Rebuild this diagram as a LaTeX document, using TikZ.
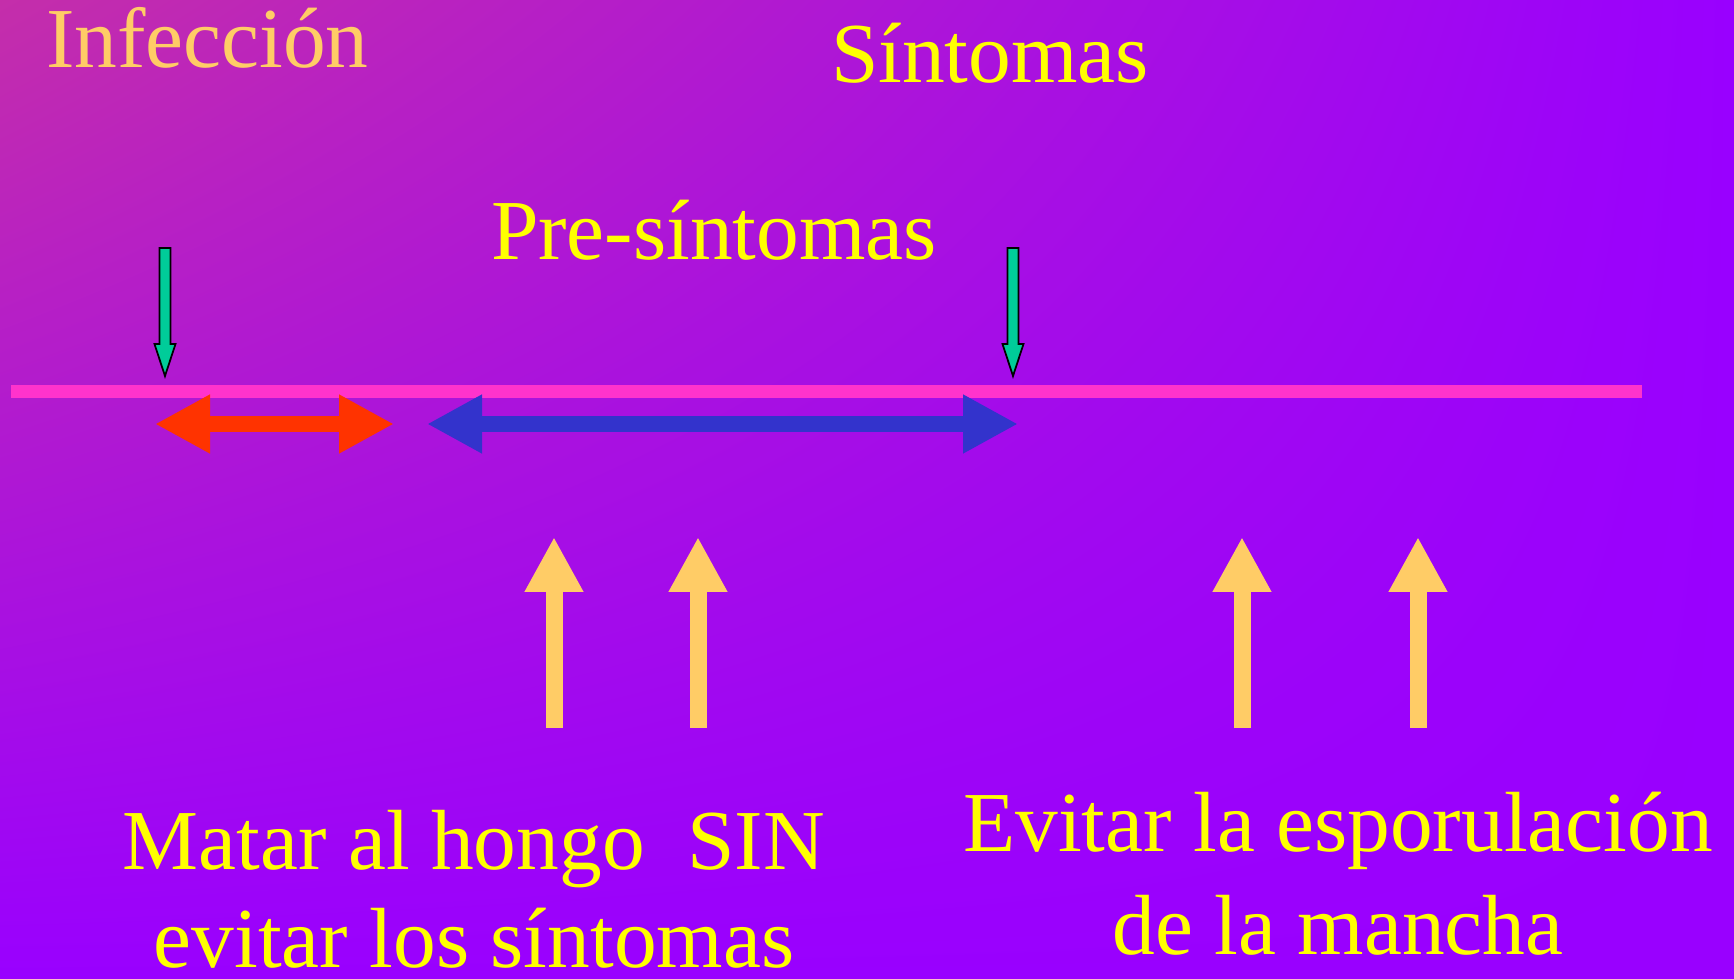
\documentclass[tikz,border=0pt]{standalone}
\usepackage{fontspec}
\setmainfont{Liberation Serif}
\usepackage{xcolor}
\usepackage{tikz}
\usetikzlibrary{arrows.meta}
\usetikzlibrary{shadings}

\definecolor{fondoA}{RGB}{196,46,170}
\definecolor{fondoB}{RGB}{153,0,255}
\definecolor{rosa}{RGB}{255,51,204}
\definecolor{verde}{RGB}{0,204,153}
\definecolor{rojo}{RGB}{255,51,0}
\definecolor{azul}{RGB}{51,51,204}
\definecolor{amarillo}{RGB}{255,255,0}
\definecolor{durazno}{RGB}{255,204,102}

\begin{document}
\begin{tikzpicture}[
	texto/.style={font=\fontsize{24.3}{29}\selectfont, inner sep=0pt, anchor=base, color=amarillo},
	flecha/.style={durazno, line width=0.17cm, -{Triangle[length=0.55cm,width=0.55cm]}},
	dobleflecha/.style={line width=0.16cm, {Triangle[length=0.55cm,width=0.55cm]}-{Triangle[length=0.55cm,width=0.55cm]}},
	flechaverde/.style={fill=verde, draw=black, line width=0.5pt, line join=miter}
	]
		\useasboundingbox (0,0) rectangle (17.34,9.78);
		\shade[upper left=fondoA, upper right=fondoB, lower left=fondoB, lower right=fondoB] (0,0) rectangle (17.34,9.78);
		% titulos
		\node[texto, anchor=base west, color=durazno] (infeccion) at (0.455,9.10) {Infección};
		\node[texto] (sintomas) at (9.90,8.95) {Síntomas};
		\node[texto] (presint) at (7.14,7.18) {Pre-síntomas};
		% linea de tiempo
		\coordinate (lineaA) at (0.11,5.86);
		\coordinate (lineaB) at (16.42,5.86);
		\draw[rosa, line width=0.13cm] (lineaA) -- (lineaB);
		\foreach \x in {1.65,10.13}
			\filldraw[flechaverde] (\x-0.055,7.30) -- ++(0.11,0) -- ++(0,-0.96) -- ++(0.05,0) -- (\x,6.02) -- ++(-0.105,0.32) -- ++(0.05,0) -- cycle;
		\coordinate (rojoA) at (1.55,5.54);
		\coordinate (rojoB) at (3.94,5.54);
		\coordinate (azulA) at (4.27,5.54);
		\coordinate (azulB) at (10.18,5.54);
		\draw[dobleflecha, rojo] (rojoA) -- (rojoB);
		\draw[dobleflecha, azul] (azulA) -- (azulB);
		% flechas hacia arriba
		\foreach \x [count=\i] in {5.54,6.98,12.42,14.18} {
			\coordinate (pie\i) at (\x,2.50);
			\coordinate (punta\i) at (\x,4.41);
			\draw[flecha] (pie\i) -- (punta\i);
		}
		% textos de abajo
		\node[texto] (matar) at (4.74,1.09) {Matar al hongo\ \ SIN};
		\node[texto] (evitarsint) at (4.74,0.10) {evitar los síntomas};
		\node[texto] (esporul) at (13.38,1.26) {Evitar la esporulación};
		\node[texto] (mancha) at (13.38,0.23) {de la mancha};
	\end{tikzpicture}
\end{document}
